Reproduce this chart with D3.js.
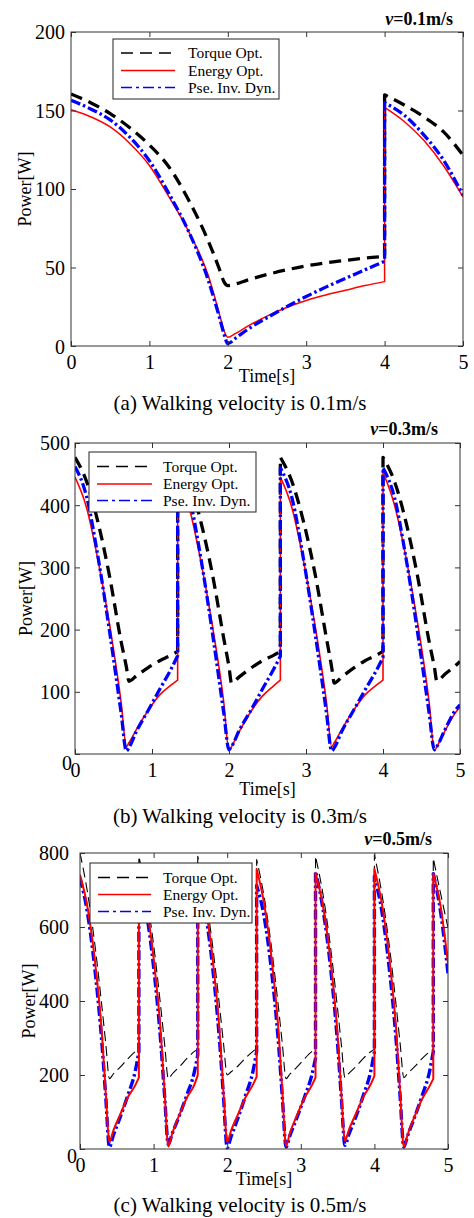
<!DOCTYPE html>
<html><head><meta charset="utf-8">
<script src="https://cdn.jsdelivr.net/npm/d3@7"></script>
<style>body{margin:0;background:#fff}svg{display:block}</style>
</head><body>
<script>
// ---------------- DATA ----------------
const LEGEND_LABELS = ["Torque Opt.", "Energy Opt.", "Pse. Inv. Dyn."];
const X_TICKS = [0, 1, 2, 3, 4, 5];
const Y_TICKS_A = [0, 50, 100, 150, 200];
const Y_TICKS_B = [0, 100, 200, 300, 400, 500];
const Y_TICKS_C = [0, 200, 400, 600, 800];
const CAPTIONS = ["(a) Walking velocity is 0.1m/s", "(b) Walking velocity is 0.3m/s", "(c) Walking velocity is 0.5m/s"];
const VELOCITIES = ["=0.1m/s", "=0.3m/s", "=0.5m/s"];
const X_LABEL = "Time[s]";
const Y_LABEL = "Power[W]";

// (a) v = 0.1 m/s
const TIME_A   = [0,0.25,0.5,0.75,1,1.25,1.5,1.75,1.9,1.95,2,2.1,2.25,2.5,2.75,3,3.25,3.5,3.75,4,4,4.25,4.5,4.75,5];
const TORQUE_A = [160.5,155,148,139,128,114,93,67,48,41,38.5,39.5,42,45.5,48.5,51,53,54.5,56,57,160,153.5,146,136.5,121.5];
const ENERGY_A = [150.5,146,139.5,129,115,95,73,45,19,10,5.5,8,12.5,19,24.5,29,32.5,35.5,38.5,41,152,143,131,115,95];
const PINV_A   = [156.5,151,144,133,118,97,73,42,17,8,1.5,5,10.5,18,25,31.5,37.5,43,48.5,54,155,147,134.5,118.5,96];

// (b) v = 0.3 m/s
const TIME_B = [0,0.15,0.3,0.45,0.6,0.667,0.7,0.8,0.95,1.1,1.25,1.333,
  1.333,1.483,1.633,1.783,1.933,2,2.033,2.133,2.283,2.433,2.583,2.667,
  2.667,2.817,2.967,3.117,3.267,3.333,3.367,3.467,3.617,3.767,3.917,4,
  4,4.15,4.3,4.45,4.6,4.667,4.7,4.8,4.95,5];
const TORQUE_B = [477,438,372,285,180,140,117,126,139,150,159,165,
  477,438,374,290,185,140,114,124,138,150,159,165,
  477,438,374,290,185,140,114,124,138,150,159,165,
  477,438,372,285,180,140,117,128,143,149];
const ENERGY_B = [445,396,311,207,82,12,18,40,70,95,111,119,
  448,396,311,207,82,5,12,36,68,93,110,119,
  445,396,311,207,82,12,18,40,70,95,111,119,
  453,400,315,210,82,5,12,36,68,75];
const PINV_B = [462,414,316,196,65,5,10,37,70,104,137,158,
  463,414,316,196,65,7,12,38,70,104,137,157,
  460,412,314,195,65,5,10,37,70,103,135,155,
  460,412,314,195,65,7,12,38,72,79];

// (c) v = 0.5 m/s
const TIME_C = [0,0.1,0.2,0.3,0.35,0.4,0.45,0.55,0.65,0.75,0.8,
  0.8,0.9,1.0,1.1,1.15,1.2,1.25,1.35,1.45,1.55,1.6,
  1.6,1.7,1.8,1.9,1.95,2.0,2.05,2.15,2.25,2.35,2.4,
  2.4,2.5,2.6,2.7,2.75,2.8,2.85,2.95,3.05,3.15,3.2,
  3.2,3.3,3.4,3.5,3.55,3.6,3.65,3.75,3.85,3.95,4.0,
  4.0,4.1,4.2,4.3,4.35,4.4,4.45,4.55,4.65,4.75,4.8,
  4.8,4.9,5.0];
const TORQUE_C = [800,696,556,380,285,190,202,222,244,263,270,
  791,690,552,378,283,190,202,222,244,263,270,
  791,690,552,378,285,200,208,225,246,264,272,
  782,684,548,376,282,190,202,222,244,263,270,
  791,690,552,378,284,193,204,223,245,263,270,
  795,692,554,379,284,193,204,223,245,263,270,
  786,690,598];
const ENERGY_C = [741,655,513,305,150,19,48,95,140,172,193,
  745,658,515,306,150,7,40,92,138,172,200,
  750,660,518,308,152,19,48,95,140,174,195,
  757,665,520,310,152,8,42,92,138,172,193,
  746,658,515,306,152,22,50,96,141,175,198,
  757,665,520,310,150,5,38,90,136,170,190,
  744,655,502];
const PINV_C = [732,640,490,280,140,5,35,88,145,210,263,
  735,642,492,282,142,12,40,90,145,205,254,
  740,645,495,282,140,3,32,86,145,210,263,
  712,630,485,278,138,5,35,86,140,200,245,
  750,650,498,284,142,10,38,88,145,210,263,
  737,644,492,282,140,5,35,88,145,210,263,
  744,640,475];

// ---------------- LAYOUT / STYLE ----------------
const W = 474, H = 1218;
const FONT = '"Liberation Serif","Times New Roman",Times,serif';
const COLORS = ["#000000", "#ff0000", "#0000ff"];

const panels = [
  { time: TIME_A, series: [TORQUE_A, ENERGY_A, PINV_A], yTicks: Y_TICKS_A, caption: CAPTIONS[0], vel: VELOCITIES[0],
    left: 71, right: 463, top: 32, bottom: 346, yLabOff: 6, zeroDx: 0, zeroDy: 0, yLabelX: 25,
    velX: 453, velY: 25, xLabY: 382, capY: 410, order: [0, 1, 2],
    styles: [{w: 3.3, d: "12,7"}, {w: 1.5, d: null}, {w: 3.3, d: "10,3,2.5,3"}],
    legend: {x0: 113, x1: 279, y0: 39, y1: 99, lx0: 121, lx1: 175, tx: 188, rows: [53, 70.5, 87.5]} },
  { time: TIME_B, series: [TORQUE_B, ENERGY_B, PINV_B], yTicks: Y_TICKS_B, caption: CAPTIONS[1], vel: VELOCITIES[1],
    left: 75, right: 460, top: 443, bottom: 754, yLabOff: 5, zeroDx: 2, zeroDy: 8, yLabelX: 25.5,
    velX: 438, velY: 435, xLabY: 795, capY: 823, order: [0, 1, 2],
    styles: [{w: 3.3, d: "12,7"}, {w: 1.6, d: null}, {w: 3.3, d: "10,3,2.5,3"}],
    legend: {x0: 89, x1: 256, y0: 452, y1: 512, lx0: 97, lx1: 152, tx: 163, rows: [466.5, 484, 500.5]} },
  { time: TIME_C, series: [TORQUE_C, ENERGY_C, PINV_C], yTicks: Y_TICKS_C, caption: CAPTIONS[2], vel: VELOCITIES[2],
    left: 80, right: 448, top: 853, bottom: 1149, yLabOff: 11, zeroDx: 8, zeroDy: 6, yLabelX: 28.5,
    velX: 432, velY: 845, xLabY: 1185, capY: 1212, order: [0, 2, 1],
    styles: [{w: 1.1, d: "10,5"}, {w: 2, d: null}, {w: 3.4, d: "10,3,2.5,3"}],
    legend: {x0: 90, x1: 252, y0: 863, y1: 923, lx0: 98, lx1: 151, tx: 163, rows: [877.5, 894.5, 911.5]} }
];

const svg = d3.select("body").append("svg").attr("width", W).attr("height", H)
  .style("font-family", FONT);
svg.append("rect").attr("width", W).attr("height", H).attr("fill", "#fff");

function buildPath(times, vals, x, y) {
  // split into segments at jumps (repeated time), smooth each, join with vertical lines
  const pts = times.map((t, i) => [t, vals[i]]);
  const segs = [];
  let cur = [pts[0]];
  for (let i = 1; i < pts.length; i++) {
    if (pts[i][0] === pts[i - 1][0]) { segs.push(cur); cur = [pts[i]]; }
    else cur.push(pts[i]);
  }
  segs.push(cur);
  const gen = d3.line().x(d => x(d[0])).y(d => y(d[1])).curve(d3.curveMonotoneX);
  return segs.map((s, i) => {
    const p = gen(s);
    return i === 0 ? p : "L" + p.slice(1);
  }).join("");
}

panels.forEach((P, pi) => {
  const x = d3.scaleLinear().domain([0, 5]).range([P.left, P.right]);
  const y = d3.scaleLinear().domain([0, d3.max(P.yTicks)]).range([P.bottom, P.top]);
  const g = svg.append("g");
  const clipId = "clip" + pi;
  g.append("clipPath").attr("id", clipId).append("rect")
    .attr("x", P.left).attr("y", P.top - 2).attr("width", P.right - P.left).attr("height", P.bottom - P.top + 4);

  const lines = g.append("g").attr("clip-path", `url(#${clipId})`);
  P.order.forEach(si => {
    const vals = P.series[si];
    const st = P.styles[si];
    lines.append("path")
      .attr("d", buildPath(P.time, vals, x, y))
      .attr("fill", "none")
      .attr("stroke", COLORS[si])
      .attr("stroke-width", st.w)
      .attr("stroke-linejoin", "round")
      .attr("stroke-dasharray", st.d);
  });

  // axes (inward ticks on all four sides)
  const tickColor = "#333";
  const bottomAx = g.append("g").attr("transform", `translate(0,${P.bottom})`)
    .call(d3.axisBottom(x).tickValues(X_TICKS).tickSize(-5).tickPadding(8.5).tickFormat(d3.format("d")));
  const topAx = g.append("g").attr("transform", `translate(0,${P.top})`)
    .call(d3.axisTop(x).tickValues(X_TICKS).tickSize(-5).tickFormat(""));
  const leftAx = g.append("g").attr("transform", `translate(${P.left},0)`)
    .call(d3.axisLeft(y).tickValues(P.yTicks).tickSize(-5).tickPadding(P.yLabOff).tickFormat(d3.format("d")));
  const rightAx = g.append("g").attr("transform", `translate(${P.right},0)`)
    .call(d3.axisRight(y).tickValues(P.yTicks).tickSize(-5).tickFormat(""));
  [bottomAx, topAx, leftAx, rightAx].forEach(a => {
    a.select(".domain").remove();
    a.selectAll("line").attr("stroke", tickColor).attr("stroke-width", 1);
    a.selectAll("text").attr("fill", "#000").style("font-size", "20px").style("font-family", FONT);
  });
  leftAx.selectAll(".tick text").filter(d => d === 0)
    .attr("dx", P.zeroDx).attr("dy", null).attr("y", P.zeroDy).attr("dominant-baseline", "central");
  leftAx.selectAll(".tick text").filter(d => d !== 0).attr("dy", "0.34em");

  // frame
  g.append("rect").attr("x", P.left).attr("y", P.top)
    .attr("width", P.right - P.left).attr("height", P.bottom - P.top)
    .attr("fill", "none").attr("stroke", tickColor).attr("stroke-width", 1);

  // legend
  const L = P.legend;
  const lg = g.append("g");
  lg.append("rect").attr("x", L.x0).attr("y", L.y0).attr("width", L.x1 - L.x0).attr("height", L.y1 - L.y0)
    .attr("fill", "#fff").attr("stroke", "#222").attr("stroke-width", 1);
  const legDash = ["12,7", null, "11,4,3,4"];
  LEGEND_LABELS.forEach((lab, i) => {
    lg.append("line").attr("x1", L.lx0).attr("x2", L.lx1).attr("y1", L.rows[i]).attr("y2", L.rows[i])
      .attr("stroke", COLORS[i]).attr("stroke-width", 1.4).attr("stroke-dasharray", legDash[i]);
    lg.append("text").attr("x", L.tx).attr("y", L.rows[i]).attr("dy", "0.33em")
      .style("font-size", "15.5px").attr("fill", "#000").text(lab);
  });

  // velocity tag
  const vt = g.append("text").attr("x", P.velX).attr("y", P.velY).attr("text-anchor", "end")
    .style("font-size", "18px").style("font-weight", "bold").attr("fill", "#000");
  vt.append("tspan").style("font-style", "italic").text("v");
  vt.append("tspan").text(P.vel);

  // axis labels
  g.append("text").attr("x", (P.left + P.right) / 2).attr("y", P.xLabY).attr("text-anchor", "middle")
    .style("font-size", "18px").attr("fill", "#000").text(X_LABEL);
  g.append("text").attr("transform", `translate(${P.yLabelX + 6},${(P.top + P.bottom) / 2}) rotate(-90)`)
    .attr("text-anchor", "middle").style("font-size", "18px").attr("fill", "#000").text(Y_LABEL);

  // caption
  g.append("text").attr("x", 240).attr("y", P.capY).attr("text-anchor", "middle")
    .style("font-size", "21px").attr("fill", "#000").text(P.caption);
});
</script>
</body></html>
